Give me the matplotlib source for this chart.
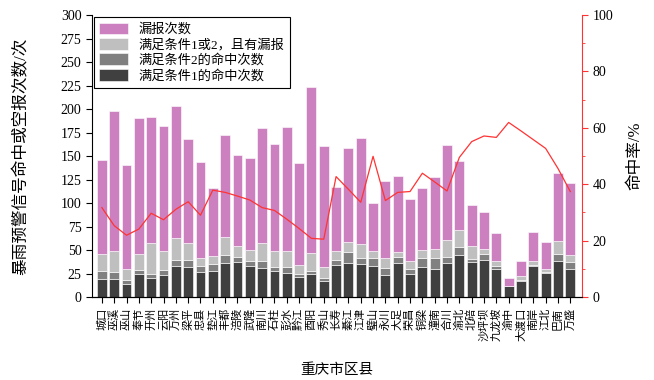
import matplotlib
matplotlib.use("Agg")
import matplotlib.pyplot as plt
import numpy as np
from matplotlib.ticker import MultipleLocator

plt.rcParams['font.family'] = ['Liberation Serif', 'Noto Sans CJK SC']
plt.rcParams['axes.unicode_minus'] = False

# district names (x axis)
districts = ['城口', '巫溪', '巫山', '奉节', '开州', '云阳', '万州', '梁平', '忠县', '垫江',
             '丰都', '涪陵', '武隆', '南川', '石柱', '彭水', '黔江', '酉阳', '秀山', '长寿',
             '綦江', '江津', '璧山', '永川', '大足', '荣昌', '铜梁', '潼南', '合川', '渝北',
             '北碚', '沙坪坝', '九龙坡', '渝中', '大渡口', '南岸', '江北', '巴南', '万盛']

# stacked counts (cumulative tops)
hit1 = [19, 19, 14, 24, 20, 23, 33, 32, 27, 28,
        36, 37, 33, 31, 28, 26, 21, 24, 17, 34,
        36, 35, 33, 23, 36, 24, 32, 30, 36, 45,
        37, 39, 30, 12, 17, 33, 26, 38, 30]
hit2_top = [28, 27, 18, 29, 25, 29, 39, 39, 33, 35,
            45, 43, 38, 38, 32, 32, 25, 28, 20, 39,
            48, 42, 41, 31, 43, 30, 41, 42, 43, 53,
            40, 46, 33, 12, 18, 34, 27, 46, 37]
miss12_top = [46, 49, 30, 46, 57, 49, 63, 57, 42, 44,
              64, 54, 50, 57, 49, 49, 34, 47, 32, 49,
              59, 56, 49, 42, 48, 38, 50, 51, 61, 71,
              54, 51, 38, 12, 22, 38, 30, 60, 45]
total = [146, 198, 140, 190, 191, 182, 203, 168, 144, 116,
         172, 151, 148, 180, 163, 181, 143, 223, 161, 117,
         159, 169, 100, 123, 129, 104, 116, 128, 162, 145,
         98, 90, 68, 20, 38, 69, 58, 132, 121]

# hit rate (%)
hit_rate = [31.7, 25.3, 21.9, 24.1, 29.7, 27.4, 31.1, 33.8, 29.0, 37.9,
            37.1, 35.8, 34.4, 31.7, 30.7, 27.6, 24.3, 20.8, 20.5, 42.7,
            38.2, 33.6, 49.9, 34.2, 37.1, 37.4, 43.9, 40.8, 37.6, 49.5,
            55.1, 57.1, 56.6, 61.9, 58.9, 55.8, 52.7, 45.6, 37.4]

x = np.arange(len(districts))
hit1 = np.array(hit1)
hit2 = np.array(hit2_top) - hit1
miss12 = np.array(miss12_top) - np.array(hit2_top)
miss = np.array(total) - np.array(miss12_top)

fig = plt.figure(figsize=(6.54, 3.80), dpi=100)
ax = fig.add_axes([0.1407, 0.2184, 0.7492, 0.7421])

w = 0.8
ec = 'white'
b1 = ax.bar(x, hit1, width=w, color='#404040', edgecolor=ec, linewidth=0.4)
b2 = ax.bar(x, hit2, width=w, bottom=hit1, color='#808080', edgecolor=ec, linewidth=0.4)
b3 = ax.bar(x, miss12, width=w, bottom=hit1 + hit2, color='#bfbfbf', edgecolor=ec, linewidth=0.4)
b4 = ax.bar(x, miss, width=w, bottom=hit1 + hit2 + miss12, color='#cc80bf', edgecolor=ec, linewidth=0.4)

ax.set_xlim(-0.8, len(districts) - 0.05)
ax.set_ylim(0, 300)
ax.yaxis.set_major_locator(MultipleLocator(25))
ax.set_xticks(x)
ax.set_xticklabels(districts, rotation=90, fontsize=8, family=['Noto Sans CJK SC'])
ax.tick_params(axis='both', direction='out', length=4, width=0.8)
ax.tick_params(axis='y', labelsize=10)
ax.spines['top'].set_visible(False)
ax.spines['right'].set_visible(False)

ax.set_ylabel('暴雨预警信号命中或空报次数/次', fontsize=12, labelpad=22)
ax.set_xlabel('重庆市区县', fontsize=10.5, labelpad=16)

ax2 = ax.twinx()
ax2.plot(x, hit_rate, color='#ff3333', linewidth=0.9)
ax2.set_ylim(0, 100)
ax2.yaxis.set_major_locator(MultipleLocator(20))
ax2.yaxis.set_minor_locator(MultipleLocator(10))
ax2.spines['right'].set_color('#ff3333')
ax2.spines['top'].set_visible(False)
ax2.spines['left'].set_visible(False)
ax2.tick_params(axis='y', which='both', colors='#ff3333', labelcolor='black', labelsize=10)
ax2.tick_params(axis='y', which='major', length=4)
ax2.tick_params(axis='y', which='minor', length=2.5)
ax2.set_ylabel('命中率/%', fontsize=12, labelpad=10)

leg = ax.legend([b4, b3, b2, b1],
                ['漏报次数', '满足条件1或2，且有漏报', '满足条件2的命中次数', '满足条件1的命中次数'],
                loc='upper left', bbox_to_anchor=(-0.01, 1.015), fontsize=9.5,
                fancybox=False, edgecolor='black', framealpha=1,
                handlelength=2.2, handleheight=1.0, labelspacing=0.15,
                borderpad=0.4, handletextpad=0.8)
leg.get_frame().set_linewidth(0.8)
leg.set_zorder(5)

fig.savefig('out.png', dpi=100)
